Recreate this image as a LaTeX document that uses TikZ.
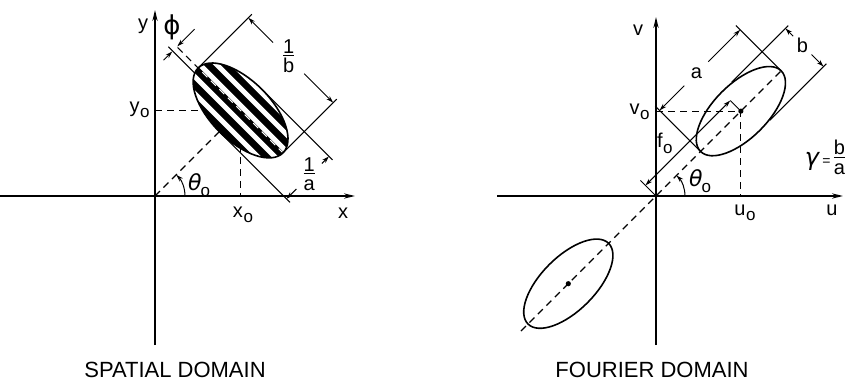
\documentclass[tikz,border=0pt]{standalone}
\usepackage{fontspec}
\setmainfont{Liberation Sans}
\newfontfamily\grec{DejaVu Sans}
\usetikzlibrary{arrows.meta, calc}

\newcommand{\dimfrac}[2]{\begin{tabular}{@{}c@{}}#1\\[-2.5pt]\hline\rule{0pt}{8pt}#2\end{tabular}}
\newcommand{\indo}[1]{#1\kern0.3pt\raisebox{-0.5ex}{\fontsize{8.5}{9}\selectfont o}}

\begin{document}
\begin{tikzpicture}[x=0.5pt, y=0.5pt,
  fl/.tip={Stealth[length=3.6pt, width=2.2pt]},
  axe/.style={line width=0.8pt, -{Stealth[length=5.5pt, width=2.6pt]}},
  trait/.style={line width=0.5pt},
  tiret/.style={line width=0.6pt, dash pattern=on 3.5pt off 2.5pt},
  cote/.style={line width=0.5pt, -fl},
  cotes/.style={line width=0.5pt, fl-fl},
  enveloppe/.style={line width=0.8pt},
  lbl/.style={font=\fontsize{10}{12}\selectfont, inner sep=1pt},
  titre/.style={font=\fontsize{11}{13}\selectfont, inner sep=1pt},
]
\useasboundingbox (-155,-195) rectangle (700,196);

% ---- spatial domain
\coordinate (O1) at (0,0);
\draw[axe] (-155,0) -- (200,0);
\draw[axe] (0,-149) -- (0,186);
\node[lbl] (xlab)  at (188,-17) {x};
\node[lbl] (ylab)  at (-12,170) {y};
\begin{scope}[rotate=45]
  \coordinate (C1) at (121,0);
\end{scope}
\draw[tiret] (C1 -| O1) -- (C1) -- (C1 |- O1);
\draw[tiret] (O1) -- (C1);
\node[lbl, anchor=east] (y0lab) at (-3,86) {\indo{y}};
\node[lbl] (x0lab) at (88,-19) {\indo{x}};
\draw[cote] (30,0) arc[start angle=0, end angle=45, radius=30];
\node[lbl] (th1) at (44,11) {{\grec\itshape\fontsize{11}{12}\selectfont θ}\kern-0.5pt\raisebox{-0.5ex}{\fontsize{8.5}{9}\selectfont o}};

\begin{scope}[rotate=45, shift={(121,0)}]
  % striped envelope
  \begin{scope}
    \clip (0,0) ellipse [x radius=30, y radius=60];
    \fill[black] (-31,-61) rectangle (31,61);
    \foreach \p in {-35,-23,-11,1,13,25}
      \fill[white] (\p,-61) rectangle (\p+5,61);
    \draw[white, tiret] (0,-61) -- (0,61);
  \end{scope}
  \draw[enveloppe] (0,0) ellipse [x radius=30, y radius=60];
  % phase
  \draw[tiret] (0,58) -- (0,92);
  \draw[trait] (-6,58.5) -- (-6,96);
  \draw[cote] (25,90) -- (0.6,90);
  \draw[cote] (-19,90) -- (-6.6,90);
  \node[lbl] (philab) at (10,107) {\grec\fontsize{13}{14}\selectfont ϕ};
  % 1/b
  \draw[trait] (0,60) -- (76,60);
  \draw[trait] (0,-60) -- (76,-60);
  \node[lbl] (binv) at (71,3) {\dimfrac{1}{b}};
  \draw[cote, shorten <=11pt] (binv.center) -- (71,60);
  \draw[cote, shorten <=11pt] (binv.center) -- (71,-60);
  % 1/a
  \draw[trait] (30,0) -- (30,-100);
  \draw[trait] (-30,0) -- (-30,-100);
  \node[lbl] (ainv) at (2,-95) {\dimfrac{1}{a}};
  \draw[cote, shorten <=9pt] (ainv.center) -- (30,-95);
  \draw[cote, shorten <=9pt] (ainv.center) -- (-30,-95);
\end{scope}
\node[titre] (spat) at (20,-174) {SPATIAL DOMAIN};

% ---- fourier domain
\coordinate (O2) at (501,0);
\draw[axe] (342,0) -- (688,0);
\draw[axe] (501,-149) -- (501,179);
\node[lbl] (ulab) at (677,-14) {u};
\node[lbl] (vlab) at (483,166) {v};
\begin{scope}[shift={(O2)}, rotate=45]
  \coordinate (C2) at (120,0);
  \coordinate (C3) at (-124,0);
\end{scope}
\draw[tiret] (C2 -| O2) -- (C2) -- (C2 |- O2);
\node[lbl, anchor=east] (v0lab) at (497,84) {\indo{v}};
\node[lbl] (u0lab) at (590,-17) {\indo{u}};
\draw[cote] ($(O2)+(29,0)$) arc[start angle=0, end angle=45, radius=29];
\node[lbl] (th2) at (545,15) {{\grec\itshape\fontsize{11}{12}\selectfont θ}\kern-0.5pt\raisebox{-0.5ex}{\fontsize{8.5}{9}\selectfont o}};

\begin{scope}[shift={(O2)}, rotate=45]
  \draw[tiret] (-191,0) -- (177,0);
  \draw[enveloppe] (C2) ellipse [x radius=57, y radius=27];
  \draw[enveloppe] (C3) ellipse [x radius=57, y radius=27];
  \fill (C2) circle [radius=2.6];
  \fill (C3) circle [radius=2.6];
  % f0
  \draw[trait] (0,0) -- (0,22);
  \draw[trait] (120,0) -- (120,15);
  \draw[cotes] (0,15) -- (120,15);
  \node[lbl, anchor=south east] (f0lab) at (42,15) {\indo{f}};
  % a
  \draw[trait] (63,0) -- (63,64);
  \draw[trait] (177,0) -- (177,64);
  \node[lbl] (alab) at (115,58) {a};
  \draw[cote, shorten <=8.5pt] (alab.center) -- (63,58);
  \draw[cote, shorten <=8.5pt] (alab.center) -- (177,58);
  % b
  \draw[trait] (134,27) -- (214,27);
  \draw[trait] (134,-27) -- (214,-27);
  \node[lbl] (blab) at (210,3) {b};
  \draw[cote, shorten <=6.5pt] (blab.center) -- (210,27);
  \draw[cote, shorten <=6.5pt] (blab.center) -- (210,-27);
\end{scope}
\node[lbl] (gam) at (670,36) {{\grec\itshape\fontsize{12}{13}\selectfont γ}\,{\fontsize{7}{8}\selectfont =}\,\dimfrac{b}{a}};
\node[titre] (four) at (497,-174) {FOURIER DOMAIN};
\end{tikzpicture}
\end{document}
